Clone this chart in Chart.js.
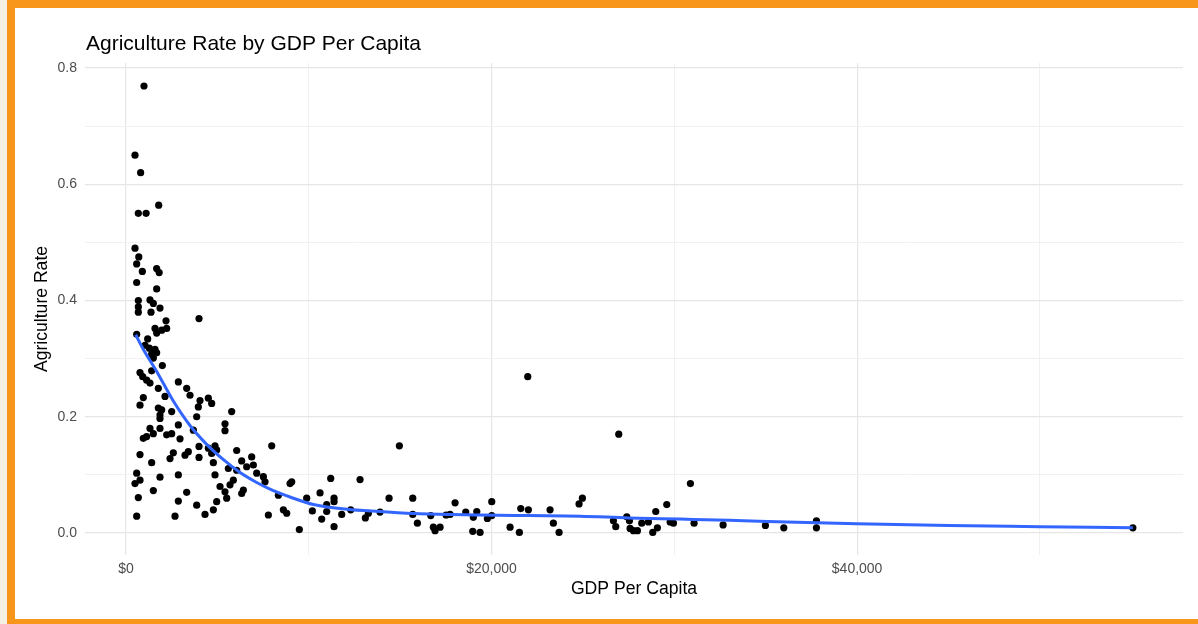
<!DOCTYPE html>
<html>
<head>
<meta charset="utf-8">
<script src="https://cdn.jsdelivr.net/npm/chart.js@4.4.1/dist/chart.umd.min.js"></script>
<style>
  html, body { margin: 0; padding: 0; width: 1198px; height: 624px; overflow: hidden; background: #f6efe3; }
  #frame { position: absolute; left: 7px; top: 0; width: 1200px; height: 627px; box-sizing: border-box;
           border: 8px solid #f8961c; border-right: none; background: #ffffff; }
  #chart { position: absolute; left: 0; top: 0; }
</style>
</head>
<body>
<div id="frame"></div>
<canvas id="chart" width="1198" height="624"></canvas>
<script>
// Country observations: GDP per capita (USD) and agriculture share of the economy
const gdpPerCapita = [
  985, 492, 802, 1788, 675, 1100, 492, 700, 584, 1678, 1815, 894, 584, 1678,
  675, 1313, 1496, 675, 1860, 675, 1368, 3995, 2189, 1587, 1952, 2225, 1678, 584,
  1186, 1040, 1277, 1587, 1404, 1678, 1496, 1988, 1404, 766, 912, 1131, 1313, 2864,
  3320, 3502, 1769, 948, 766, 2134, 4049, 4505, 4688, 3958, 1769, 1952, 1860, 2499,
  5782, 1860, 3867, 5417, 5417, 2864, 1313, 1860, 1496, 1131, 948, 2225, 2499, 3685,
  2955, 766, 1404, 2408, 2590, 3229, 3411, 3995, 3995, 4505, 4870, 4961, 4688, 4779,
  6056, 6330, 6877, 6968, 6603, 7972, 584, 766, 492, 1860, 2864, 4870, 5144, 5691,
  5873, 6056, 5600, 7150, 7515, 7606, 1496, 3320, 675, 2864, 4961, 5417, 5509, 6330,
  6421, 3867, 4779, 584, 2681, 4323, 7789, 8610, 8793, 8975, 8336,
  9067, 9484, 9886, 10196, 10616, 10981, 11200, 11382, 11382, 10981, 10707, 11382, 11802, 12294,
  12805, 13096, 13260, 13899, 14392, 14957, 15688, 15688, 15943,
  16674, 16816, 16910, 17183, 17511, 17730, 18004, 18588, 19004, 19191, 18971, 19372, 19771, 20011,
  20011, 21012, 21522, 21598, 22014, 21981, 23201, 23383, 23694, 24788, 24969, 26960, 26667, 26795,
  27398, 27544, 27580, 27762, 27981, 28218, 28582, 28820, 29074, 28984, 29586, 29950,
  29770, 30880, 31081, 32668, 34983, 35989, 37775, 37775, 55087
];
const agricultureRate = [
  0.769, 0.650, 0.620, 0.564, 0.550, 0.550, 0.490, 0.475, 0.463, 0.455, 0.448, 0.450, 0.431, 0.420,
  0.400, 0.401, 0.395, 0.389, 0.387, 0.380, 0.380, 0.369, 0.365, 0.352, 0.349, 0.352, 0.344, 0.342,
  0.334, 0.323, 0.318, 0.316, 0.308, 0.310, 0.301, 0.288, 0.279, 0.276, 0.269, 0.263, 0.258, 0.260,
  0.249, 0.237, 0.249, 0.233, 0.220, 0.235, 0.228, 0.232, 0.223, 0.217, 0.215, 0.212, 0.203, 0.209,
  0.209, 0.197, 0.200, 0.188, 0.176, 0.186, 0.180, 0.180, 0.171, 0.166, 0.163, 0.169, 0.171, 0.177,
  0.162, 0.135, 0.121, 0.128, 0.138, 0.134, 0.140, 0.149, 0.130, 0.146, 0.150, 0.143, 0.137, 0.121,
  0.142, 0.124, 0.131, 0.117, 0.114, 0.150, 0.103, 0.091, 0.085, 0.096, 0.100, 0.100, 0.080, 0.083,
  0.091, 0.108, 0.111, 0.103, 0.097, 0.088, 0.073, 0.070, 0.061, 0.055, 0.054, 0.071, 0.060, 0.068,
  0.074, 0.048, 0.040, 0.029, 0.029, 0.032, 0.031, 0.040, 0.034, 0.085, 0.065,
  0.088, 0.006, 0.060, 0.038, 0.069, 0.049, 0.094, 0.060, 0.011, 0.037, 0.024, 0.054, 0.032, 0.040,
  0.092, 0.026, 0.034, 0.036, 0.060, 0.150, 0.060, 0.032, 0.017,
  0.030, 0.010, 0.004, 0.010, 0.031, 0.032, 0.052, 0.036, 0.027, 0.037, 0.003, 0.001, 0.025, 0.030,
  0.054, 0.010, 0.001, 0.042, 0.040, 0.269, 0.040, 0.017, 0.001, 0.050, 0.060, 0.170, 0.021, 0.011,
  0.028, 0.021, 0.008, 0.004, 0.004, 0.017, 0.019, 0.001, 0.009, 0.037, 0.049, 0.017,
  0.019, 0.085, 0.017, 0.014, 0.013, 0.009, 0.021, 0.009, 0.009
];

// Smoothed trend through the observations
const trendGdp  = [531, 1000, 1680, 2590, 3500, 4400, 5300, 6200, 7150, 8060, 8975, 10250, 12080,
                   13900, 16090, 19370, 22000, 24840, 27500, 30300, 33000, 36150, 40000, 45000, 50000, 55087];
const trendRate = [0.341, 0.313, 0.278, 0.227, 0.185, 0.153, 0.127, 0.105, 0.087, 0.073, 0.062, 0.049, 0.041,
                   0.037, 0.033, 0.031, 0.030, 0.029, 0.026, 0.024, 0.022, 0.019, 0.016, 0.013, 0.011, 0.009];

// Axis ticks: labelled major lines and unlabelled minor lines
const xMajorTicks = [0, 20000, 40000];
const xTickLabels = ['$0', '$20,000', '$40,000'];
const xMinorTicks = [10000, 30000, 50000];
const yMajorTicks = [0, 0.2, 0.4, 0.6, 0.8];
const yTickLabels = ['0.0', '0.2', '0.4', '0.6', '0.8'];
const yMinorTicks = [0.1, 0.3, 0.5, 0.7];

const chartTitle = 'Agriculture Rate by GDP Per Capita';
const xTitle = 'GDP Per Capita';
const yTitle = 'Agriculture Rate';

const FONT = '"Liberation Sans", Arimo, Arial, sans-serif';

const points = gdpPerCapita.map((g, i) => ({ x: g, y: agricultureRate[i] }));
const trend = trendGdp.map((g, i) => ({ x: g, y: trendRate[i] }));

function setTicks(major, minor) {
  return scale => {
    scale.ticks = major.concat(minor).sort((a, b) => a - b).map(v => ({ value: v }));
  };
}
function labelFor(major, labels) {
  return value => {
    const i = major.indexOf(value);
    return i >= 0 ? labels[i] : '';
  };
}
function gridColor(major) {
  return ctx => (ctx.tick && major.includes(ctx.tick.value)) ? '#e6e6e6' : '#f1f1f1';
}
function gridWidth(major) {
  return ctx => (ctx.tick && major.includes(ctx.tick.value)) ? 1.2 : 1;
}

// Title and axis titles drawn around the plot panel
const titlesPlugin = {
  id: 'panelTitles',
  afterDraw(chart) {
    const { ctx, chartArea: a } = chart;
    ctx.save();
    ctx.fillStyle = '#000000';
    ctx.font = '21px ' + FONT;
    ctx.textAlign = 'left';
    ctx.textBaseline = 'alphabetic';
    ctx.fillText(chartTitle, a.left + 1, 50);

    ctx.font = '17.6px ' + FONT;
    ctx.textAlign = 'center';
    ctx.textBaseline = 'middle';
    ctx.fillText(xTitle, (a.left + a.right) / 2, 589);

    ctx.translate(42, (a.top + a.bottom) / 2);
    ctx.rotate(-Math.PI / 2);
    ctx.fillText(yTitle, 0, 0);
    ctx.restore();
  }
};

new Chart(document.getElementById('chart'), {
  type: 'scatter',
  data: {
    datasets: [
      {
        type: 'line',
        label: 'trend',
        data: trend,
        borderColor: '#3366ff',
        borderWidth: 3,
        pointRadius: 0,
        fill: false,
        cubicInterpolationMode: 'monotone',
        order: 0
      },
      {
        label: 'countries',
        data: points,
        backgroundColor: '#000000',
        borderWidth: 0,
        pointRadius: 3.6,
        pointHoverRadius: 3.6,
        order: 1
      }
    ]
  },
  options: {
    responsive: false,
    animation: false,
    devicePixelRatio: 1,
    layout: { padding: { left: 0, right: 15, top: 63, bottom: 0 } },
    plugins: { legend: { display: false }, tooltip: { enabled: false }, title: { display: false } },
    scales: {
      x: {
        type: 'linear',
        position: 'bottom',
        min: -2243,
        max: 57830,
        afterBuildTicks: setTicks(xMajorTicks, xMinorTicks),
        afterFit: s => { s.height = 69; },
        border: { display: false },
        grid: { drawTicks: false, color: gridColor(xMajorTicks), lineWidth: gridWidth(xMajorTicks) },
        ticks: {
          padding: 6, autoSkip: false, maxRotation: 0, color: '#4d4d4d',
          font: { family: FONT, size: 14 },
          callback: labelFor(xMajorTicks, xTickLabels)
        }
      },
      y: {
        type: 'linear',
        min: -0.0378,
        max: 0.8086,
        afterBuildTicks: setTicks(yMajorTicks, yMinorTicks),
        afterFit: s => { s.width = 85; },
        border: { display: false },
        grid: { drawTicks: false, color: gridColor(yMajorTicks), lineWidth: gridWidth(yMajorTicks) },
        ticks: {
          padding: 8, autoSkip: false, color: '#4d4d4d',
          font: { family: FONT, size: 14 },
          callback: labelFor(yMajorTicks, yTickLabels)
        }
      }
    }
  },
  plugins: [titlesPlugin]
});
</script>
</body>
</html>
